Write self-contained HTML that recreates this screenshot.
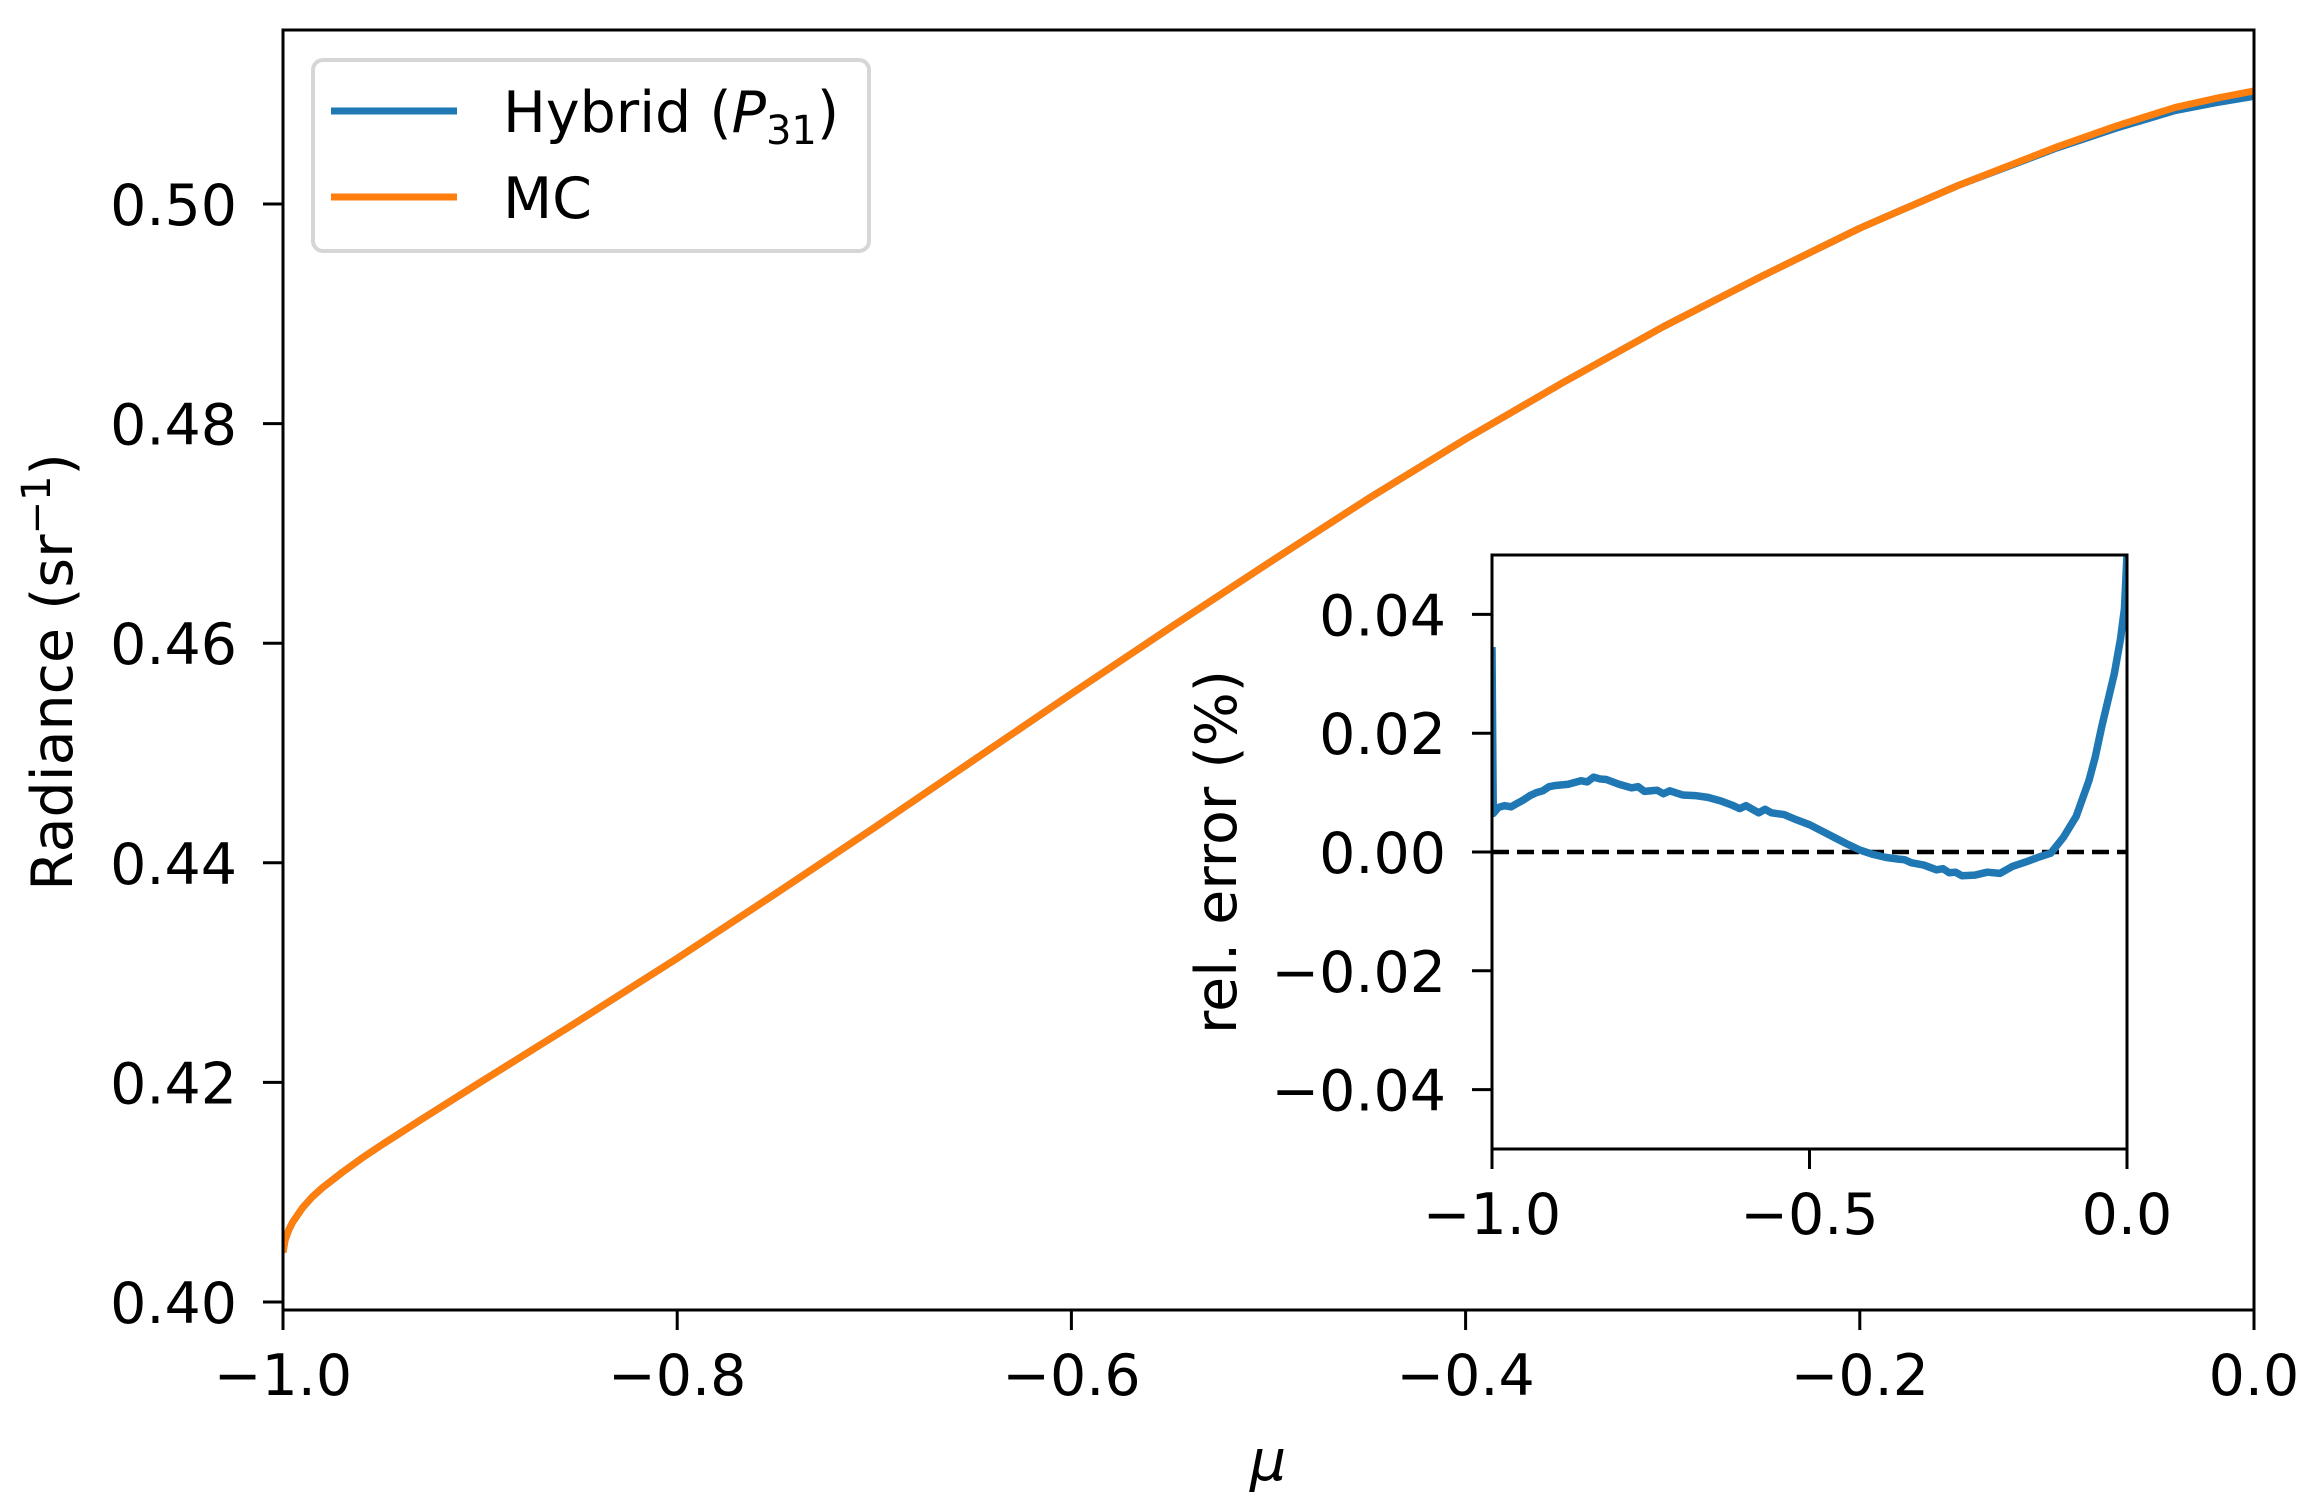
<!DOCTYPE html>
<html>
<head>
<meta charset="utf-8">
<style>
  html,body{margin:0;padding:0;background:#fff;}
  svg{display:block;}
  text{font-family:"DejaVu Sans","Liberation Sans",sans-serif;fill:#000;}
</style>
</head>
<body>
<svg id="chart" width="2319" height="1505" viewBox="0 0 2319 1505" xmlns="http://www.w3.org/2000/svg"></svg>
<script>
// ---- Main chart data ----
const muMain = [-1.0, -0.999, -0.997, -0.995, -0.99, -0.985, -0.98, -0.97, -0.96, -0.95, -0.93, -0.9, -0.85, -0.8, -0.75, -0.7, -0.65, -0.6, -0.55, -0.5, -0.45, -0.4, -0.35, -0.3, -0.25, -0.2, -0.15, -0.1, -0.07, -0.04, -0.02, 0.0];
const hybridVals = [0.4045, 0.4056, 0.4066, 0.4073, 0.4086, 0.4096, 0.4104, 0.4118, 0.4131, 0.4143, 0.4166, 0.4200, 0.4256, 0.4313, 0.4372, 0.4432, 0.4493, 0.4554, 0.4614, 0.4673, 0.4731, 0.4786, 0.4838, 0.4888, 0.4934, 0.4978, 0.5017, 0.5051, 0.5069, 0.5085, 0.5092, 0.5098];
const mcVals = [0.4045, 0.4056, 0.4066, 0.4073, 0.4086, 0.4096, 0.4104, 0.4118, 0.4131, 0.4143, 0.4166, 0.4200, 0.4256, 0.4313, 0.4372, 0.4432, 0.4493, 0.4554, 0.4614, 0.4673, 0.4731, 0.4786, 0.4838, 0.4888, 0.4934, 0.4978, 0.5017, 0.5052, 0.5071, 0.5088, 0.5096, 0.5103];
const mainXTicks = [-1.0, -0.8, -0.6, -0.4, -0.2, 0.0];
const mainXTickLabels = ["\u22121.0", "\u22120.8", "\u22120.6", "\u22120.4", "\u22120.2", "0.0"];
const mainYTicks = [0.40, 0.42, 0.44, 0.46, 0.48, 0.50];
const mainYTickLabels = ["0.40", "0.42", "0.44", "0.46", "0.48", "0.50"];

// ---- Inset data ----
const muErr = [-1.0, -0.998, -0.99, -0.98, -0.97, -0.96, -0.95, -0.94, -0.93, -0.92, -0.91, -0.9, -0.88, -0.86, -0.85, -0.84, -0.83, -0.82, -0.8, -0.78, -0.77, -0.76, -0.74, -0.73, -0.72, -0.7, -0.68, -0.66, -0.64, -0.62, -0.61, -0.6, -0.58, -0.57, -0.56, -0.54, -0.52, -0.5, -0.48, -0.46, -0.44, -0.42, -0.4, -0.38, -0.36, -0.35, -0.34, -0.32, -0.3, -0.29, -0.28, -0.27, -0.26, -0.24, -0.22, -0.2, -0.18, -0.16, -0.14, -0.12, -0.1, -0.08, -0.06, -0.05, -0.04, -0.03, -0.02, -0.01, -0.004, 0.0];
const relErr = [0.0345, 0.0065, 0.0075, 0.0078, 0.0076, 0.0082, 0.0088, 0.0095, 0.0100, 0.0103, 0.0110, 0.0112, 0.0114, 0.0120, 0.0118, 0.0126, 0.0123, 0.0122, 0.0114, 0.0108, 0.0110, 0.0102, 0.0104, 0.0098, 0.0103, 0.0096, 0.0095, 0.0092, 0.0086, 0.0078, 0.0073, 0.0078, 0.0066, 0.0072, 0.0066, 0.0063, 0.0054, 0.0046, 0.0035, 0.0024, 0.0013, 0.0003, -0.0004, -0.0009, -0.0012, -0.0013, -0.0018, -0.0022, -0.0030, -0.0028, -0.0035, -0.0034, -0.0040, -0.0039, -0.0034, -0.0036, -0.0024, -0.0017, -0.0009, -0.0002, 0.0025, 0.0060, 0.0120, 0.0160, 0.0210, 0.0255, 0.0300, 0.0360, 0.0410, 0.0500];
const insetXTicks = [-1.0, -0.5, 0.0];
const insetXTickLabels = ["\u22121.0", "\u22120.5", "0.0"];
const insetYTicks = [0.04, 0.02, 0.0, -0.02, -0.04];
const insetYTickLabels = ["0.04", "0.02", "0.00", "\u22120.02", "\u22120.04"];

const NS = "http://www.w3.org/2000/svg";
const svg = document.getElementById("chart");
function mk(tag, attrs, parent){
  const e = document.createElementNS(NS, tag);
  for (const k in attrs) e.setAttribute(k, attrs[k]);
  (parent || svg).appendChild(e);
  return e;
}

// Main axes geometry
const M = {l:283, r:2254, t:30, b:1310, x0:-1, x1:0, y0:0.39927, y1:0.51585};
const mx = v => M.l + (v - M.x0) / (M.x1 - M.x0) * (M.r - M.l);
const my = v => M.b - (v - M.y0) / (M.y1 - M.y0) * (M.b - M.t);

function pathFrom(xs, ys, fx, fy){
  return xs.map((x,i)=>(i?"L":"M")+fx(x).toFixed(2)+","+fy(ys[i]).toFixed(2)).join(" ");
}

const cpm = mk("clipPath", {id:"mclip"});
mk("rect", {x:M.l, y:M.t, width:M.r-M.l, height:M.b-M.t}, cpm);

// Series
const gMain = mk("g", {"clip-path":"url(#mclip)"});


const pH = mk("path", {d:pathFrom(muMain, hybridVals, mx, my), fill:"none", stroke:"#1f77b4", "stroke-width":7, "stroke-linejoin":"round"}, gMain);


const pM = mk("path", {d:pathFrom(muMain, mcVals, mx, my), fill:"none", stroke:"#ff7f0e", "stroke-width":7, "stroke-linejoin":"round"}, gMain);



// Main frame
const fr = mk("rect", {x:M.l, y:M.t, width:M.r-M.l, height:M.b-M.t, fill:"none", stroke:"#000", "stroke-width":3});



// Main x ticks
mainXTicks.forEach((v,i)=>{
  const x = mx(v);
  const t = mk("line", {x1:x, x2:x, y1:M.b, y2:M.b+20, stroke:"#000", "stroke-width":3});
  
  
  const lb = mk("text", {x:x, y:1395, "font-size":57, "text-anchor":"middle"});
  lb.textContent = mainXTickLabels[i];
  
  
});
// Main y ticks
mainYTicks.forEach((v,i)=>{
  const y = my(v);
  const t = mk("line", {x1:M.l-20, x2:M.l, y1:y, y2:y, stroke:"#000", "stroke-width":3});
  
  
  const lb = mk("text", {x:237, y:y+21, "font-size":57, "text-anchor":"end"});
  lb.textContent = mainYTickLabels[i];
  
  
});

// Axis titles
const xt = mk("text", {x:1268, y:1480, "font-size":57, "text-anchor":"middle", "font-style":"italic"});
xt.textContent = "\u03bc";


const yt = mk("text", {x:0, y:0, "font-size":57, "text-anchor":"middle", transform:"translate(72,672) rotate(-90)"});
yt.innerHTML = 'Radiance (sr<tspan dy="-22" font-size="40">\u22121</tspan><tspan dy="22">)</tspan>';



// Legend
const lg = mk("g", {});


mk("rect", {x:313, y:60, width:556, height:191, rx:10, fill:"#fff", "fill-opacity":0.8, stroke:"#d6d6d6", "stroke-width":4}, lg);
const l1 = mk("line", {x1:331, x2:457, y1:111, y2:111, stroke:"#1f77b4", "stroke-width":7}, lg);


const t1 = mk("text", {x:503, y:132, "font-size":57}, lg);
t1.innerHTML = 'Hybrid (<tspan font-style="italic">P</tspan><tspan dy="12" font-size="40">31</tspan><tspan dy="-12">)</tspan>';


const l2 = mk("line", {x1:331, x2:457, y1:197, y2:197, stroke:"#ff7f0e", "stroke-width":7}, lg);


const t2 = mk("text", {x:503, y:218, "font-size":57}, lg);
t2.textContent = "MC";



// ---- Inset ----
const I = {l:1492, r:2127, t:555, b:1149, x0:-1, x1:0, y0:-0.05, y1:0.05};
const ix = v => I.l + (v - I.x0) / (I.x1 - I.x0) * (I.r - I.l);
const iy = v => I.b - (v - I.y0) / (I.y1 - I.y0) * (I.b - I.t);

const gi = mk("g", {});


mk("rect", {x:I.l, y:I.t, width:I.r-I.l, height:I.b-I.t, fill:"#fff"}, gi);
const cp = mk("clipPath", {id:"iclip"}, gi);
mk("rect", {x:I.l, y:I.t, width:I.r-I.l, height:I.b-I.t}, cp);
const zl = mk("line", {x1:I.l, x2:I.r, y1:iy(0), y2:iy(0), stroke:"#000", "stroke-width":4.5, "stroke-dasharray":"17 8"}, gi);


const ep = mk("path", {d:pathFrom(muErr, relErr, ix, iy), fill:"none", stroke:"#1f77b4", "stroke-width":7.5, "stroke-linejoin":"round", "clip-path":"url(#iclip)"}, gi);


const ifr = mk("rect", {x:I.l, y:I.t, width:I.r-I.l, height:I.b-I.t, fill:"none", stroke:"#000", "stroke-width":3}, gi);



insetXTicks.forEach((v,i)=>{
  const x = ix(v);
  const t = mk("line", {x1:x, x2:x, y1:I.b, y2:I.b+20, stroke:"#000", "stroke-width":3}, gi);
  
  
  const lb = mk("text", {x:x, y:1234, "font-size":57, "text-anchor":"middle"}, gi);
  lb.textContent = insetXTickLabels[i];
  
  
});
insetYTicks.forEach((v,i)=>{
  const y = iy(v);
  const t = mk("line", {x1:I.l-20, x2:I.l, y1:y, y2:y, stroke:"#000", "stroke-width":3}, gi);
  
  
  const lb = mk("text", {x:1446, y:y+21, "font-size":57, "text-anchor":"end"}, gi);
  lb.textContent = insetYTickLabels[i];
  
  
});
const iyt = mk("text", {x:0, y:0, "font-size":57, "text-anchor":"middle", transform:"translate(1236,852) rotate(-90)"}, gi);
iyt.textContent = "rel. error (%)";


</script>
</body>
</html>
